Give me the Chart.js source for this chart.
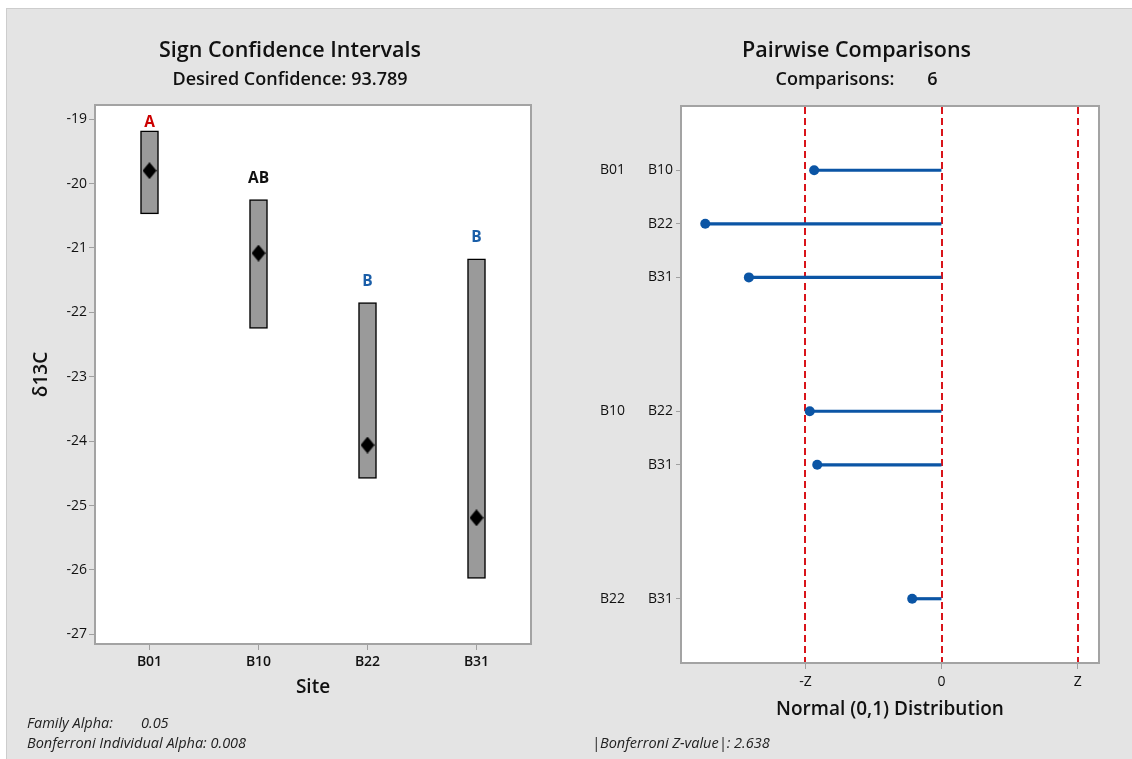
<!DOCTYPE html>
<html>
<head>
<meta charset="utf-8">
<script src="https://cdn.jsdelivr.net/npm/chart.js@4/dist/chart.umd.min.js"></script>
<style>
  html, body { margin: 0; padding: 0; background: #ffffff; }
  #frame {
    position: absolute; left: 6px; top: 8px; width: 1126px; height: 751px;
    background: #e4e4e4; border-top: 1px solid #cdcdcd; border-left: 1px solid #cdcdcd;
    box-sizing: border-box;
  }
  #left  { position: absolute; left: 0px;   top: 0px; }
  #right { position: absolute; left: 573px; top: 0px; }
</style>
</head>
<body>
<div id="frame">
  <canvas id="left" width="566" height="751"></canvas>
  <canvas id="right" width="553" height="751"></canvas>
</div>
<script>
// ---- Sign confidence intervals per site ----
const sites      = ['B01', 'B10', 'B22', 'B31'];
const ciLow      = [-20.47, -22.25, -24.58, -26.13];
const ciHigh     = [-19.18, -20.25, -21.85, -21.17];
const medians    = [-19.80, -21.08, -24.06, -25.19];
const groupings  = ['A', 'AB', 'B', 'B'];
const yTickMin   = -27;
const yTickMax   = -19;

// ---- Pairwise comparisons (Z statistics) ----
const pairFirst  = ['B01', 'B01', 'B01', 'B10', 'B10', 'B22'];
const pairSecond = ['B10', 'B22', 'B31', 'B22', 'B31', 'B31'];
const pairZ      = [-2.47, -4.58, -3.735, -2.555, -2.41, -0.57];
const zCritical  = 2.638;
const zTickLabels = ['-Z', '0', 'Z'];

const FONT = "'Open Sans', 'Noto Sans', sans-serif";
const letterColor = { 'A': '#cc0000', 'AB': '#111111', 'B': '#1a5ea8' };

Chart.defaults.font.family = FONT;
Chart.defaults.color = '#111111';

// empty spacer axis that reserves room on the right of a plot
function spacerAxis(axis, width) {
  return {
    type: 'linear', axis: axis, position: 'right', display: true,
    grid: { display: false }, ticks: { display: false }, border: { display: false },
    afterFit(s) { s.width = width; }
  };
}

// white plotting region with a grey frame
const plotFrame = {
  id: 'plotFrame',
  beforeDatasetsDraw(chart) {
    const { ctx, chartArea: a } = chart;
    ctx.save();
    ctx.fillStyle = '#ffffff';
    ctx.fillRect(a.left, a.top, a.right - a.left, a.bottom - a.top);
    ctx.restore();
  },
  afterDraw(chart) {
    const { ctx, chartArea: a } = chart;
    ctx.save();
    ctx.strokeStyle = '#a3a3a3';
    ctx.lineWidth = 2;
    ctx.strokeRect(a.left, a.top, a.right - a.left, a.bottom - a.top);
    ctx.restore();
  }
};

// black diamond marker for the medians
function diamondMarker(w, h) {
  const c = document.createElement('canvas');
  c.width = w; c.height = h;
  const g = c.getContext('2d');
  g.fillStyle = '#000000';
  g.beginPath();
  g.moveTo(w / 2, 0);
  g.lineTo(w, h / 2);
  g.lineTo(w / 2, h);
  g.lineTo(0, h / 2);
  g.closePath();
  g.fill();
  return c;
}

// grouping letters above each interval
const groupLetters = {
  id: 'groupLetters',
  afterDatasetsDraw(chart) {
    const { ctx, chartArea: a } = chart;
    const xs = chart.scales.x, ys = chart.scales.y;
    ctx.save();
    ctx.font = `700 15.5px ${FONT}`;
    ctx.textAlign = 'center';
    ctx.textBaseline = 'middle';
    groupings.forEach((g, i) => {
      const x = xs.getPixelForValue(i);
      const y = Math.max(ys.getPixelForValue(ciHigh[i]) - 21, a.top + 18);
      ctx.fillStyle = letterColor[g];
      ctx.fillText(g, x, y);
    });
    ctx.restore();
  }
};

const leftNotes = {
  id: 'leftNotes',
  afterDraw(chart) {
    const { ctx } = chart;
    ctx.save();
    ctx.font = `italic 14.5px ${FONT}`;
    ctx.fillStyle = '#222222';
    ctx.textBaseline = 'middle';
    ctx.fillText('Family Alpha:', 20, 715);
    ctx.fillText('0.05', 134, 715);
    ctx.fillText('Bonferroni Individual Alpha: 0.008', 20, 735);
    ctx.restore();
  }
};

new Chart(document.getElementById('left'), {
  type: 'bar',
  data: {
    labels: sites,
    datasets: [
      {
        type: 'line',
        data: medians,
        showLine: false,
        pointStyle: diamondMarker(14, 17),
        pointRadius: 8,
        order: 0
      },
      {
        type: 'bar',
        data: sites.map((s, i) => [ciLow[i], ciHigh[i]]),
        backgroundColor: '#9a9a9a',
        borderColor: '#000000',
        borderWidth: 1.5,
        borderSkipped: false,
        barThickness: 18,
        order: 1
      }
    ]
  },
  options: {
    responsive: false,
    animation: false,
    events: [],
    layout: { padding: { left: 0, right: 0, top: 0, bottom: 60.6 } },
    plugins: {
      legend: { display: false },
      tooltip: { enabled: false },
      title: {
        display: true, text: 'Sign Confidence Intervals', color: '#111',
        font: { size: 21.5, weight: '600' }, padding: { top: 29.1, bottom: 0 }
      },
      subtitle: {
        display: true, text: 'Desired Confidence: 93.789', color: '#111',
        font: { size: 18, weight: '600' }, padding: { top: 5.3, bottom: 14.2 }
      }
    },
    scales: {
      x: {
        offset: true,
        grid: { offset: false, drawOnChartArea: false, tickLength: 6, color: '#a0a0a0' },
        border: { display: false },
        ticks: { padding: 4, font: { size: 14, weight: '600' }, color: '#111' },
        title: { display: true, text: 'Site', font: { size: 19, weight: '600' }, color: '#111', padding: 0 },
        afterFit(s) { s.height = 55.4; }
      },
      y: {
        min: -27.15, max: -18.78,
        grid: { drawOnChartArea: false, tickLength: 6, color: '#a0a0a0' },
        border: { display: false },
        ticks: { stepSize: 1, includeBounds: false, padding: 2, font: { size: 14, weight: '500' }, color: '#111' },
        afterBuildTicks(s) {
          const t = [];
          for (let v = yTickMin; v <= yTickMax; v++) t.push({ value: v });
          s.ticks = t;
        },
        title: {
          display: true, text: 'δ13C', font: { size: 19, weight: '600' }, color: '#111',
          padding: { top: 23, bottom: 0 }
        },
        afterFit(s) { s.width = 88; }
      },
      yRight: spacerAxis('y', 42)
    }
  },
  plugins: [plotFrame, groupLetters, leftNotes]
});

// ---- right panel ----
// rows are stacked per first site, with a gap between groups
const rowPos = [];
{
  let p = 0;
  pairFirst.forEach((g, i) => {
    if (i > 0) p += (g === pairFirst[i - 1]) ? 1 : 2.5;
    rowPos.push(p);
  });
}
const zTicks = [-zCritical, 0, zCritical];

const zLines = {
  id: 'zLines',
  beforeDatasetsDraw(chart) {
    const { ctx, chartArea: a } = chart;
    const xs = chart.scales.x;
    ctx.save();
    ctx.strokeStyle = '#d9141a';
    ctx.lineWidth = 2;
    ctx.setLineDash([7, 4]);
    zTicks.forEach(v => {
      const x = Math.round(xs.getPixelForValue(v));
      ctx.beginPath();
      ctx.moveTo(x, a.top + 1);
      ctx.lineTo(x, a.bottom);
      ctx.stroke();
    });
    ctx.restore();
  }
};

const groupNames = {
  id: 'groupNames',
  afterDraw(chart) {
    const { ctx } = chart;
    const ys = chart.scales.y;
    ctx.save();
    ctx.font = `500 14px ${FONT}`;
    ctx.fillStyle = '#111';
    ctx.textAlign = 'left';
    ctx.textBaseline = 'middle';
    pairFirst.forEach((g, i) => {
      if (i === 0 || g !== pairFirst[i - 1]) {
        ctx.fillText(g, 20, ys.getPixelForValue(rowPos[i]));
      }
    });
    ctx.font = `italic 14.5px ${FONT}`;
    ctx.fillStyle = '#222';
    ctx.fillText('|Bonferroni Z-value|: ' + zCritical.toFixed(3), 12, 735);
    ctx.restore();
  }
};

new Chart(document.getElementById('right'), {
  type: 'bar',
  data: {
    datasets: [
      {
        type: 'scatter',
        data: pairZ.map((z, i) => ({ x: z, y: rowPos[i] })),
        backgroundColor: '#0b55a5',
        borderWidth: 0,
        pointRadius: 5,
        order: 0
      },
      {
        type: 'bar',
        data: pairZ.map((z, i) => ({ x: [0, z], y: rowPos[i] })),
        backgroundColor: '#0b55a5',
        borderWidth: 0,
        barThickness: 2.5,
        order: 1
      }
    ]
  },
  options: {
    indexAxis: 'y',
    responsive: false,
    animation: false,
    events: [],
    layout: { padding: { left: 0, right: 0, top: 0, bottom: 38.6 } },
    plugins: {
      legend: { display: false },
      tooltip: { enabled: false },
      title: {
        display: true, text: 'Pairwise Comparisons', color: '#111',
        font: { size: 21.5, weight: '600' }, padding: { top: 29.1, bottom: 0 }
      },
      subtitle: {
        display: true, text: 'Comparisons:       6', color: '#111',
        font: { size: 18, weight: '600' }, padding: { top: 5.3, bottom: 15.2 }
      }
    },
    scales: {
      x: {
        type: 'linear',
        min: -5.05, max: 3.05,
        grid: { drawOnChartArea: false, tickLength: 6, color: '#a0a0a0' },
        border: { display: false },
        ticks: {
          padding: 5, font: { size: 14, weight: '500' }, color: '#111',
          callback: (v) => zTickLabels[zTicks.findIndex(t => Math.abs(t - v) < 1e-9)]
        },
        afterBuildTicks(s) { s.ticks = zTicks.map(v => ({ value: v })); },
        title: {
          display: true, text: 'Normal (0,1) Distribution',
          font: { size: 19, weight: '600' }, color: '#111', padding: 0
        },
        afterFit(s) { s.height = 58.4; }
      },
      y: {
        type: 'linear',
        reverse: true,
        offset: false,
        min: -1.2, max: 9.2,
        grid: { offset: false, drawOnChartArea: false, tickLength: 5, color: '#a0a0a0' },
        border: { display: false },
        ticks: {
          padding: 3, font: { size: 14, weight: '500' }, color: '#111',
          callback: (v) => pairSecond[rowPos.findIndex(p => Math.abs(p - v) < 1e-9)]
        },
        afterBuildTicks(s) { s.ticks = rowPos.map(v => ({ value: v })); },
        afterFit(s) { s.width = 101; }
      },
      yRight: spacerAxis('y', 34)
    }
  },
  plugins: [plotFrame, zLines, groupNames]
});
</script>
</body>
</html>
